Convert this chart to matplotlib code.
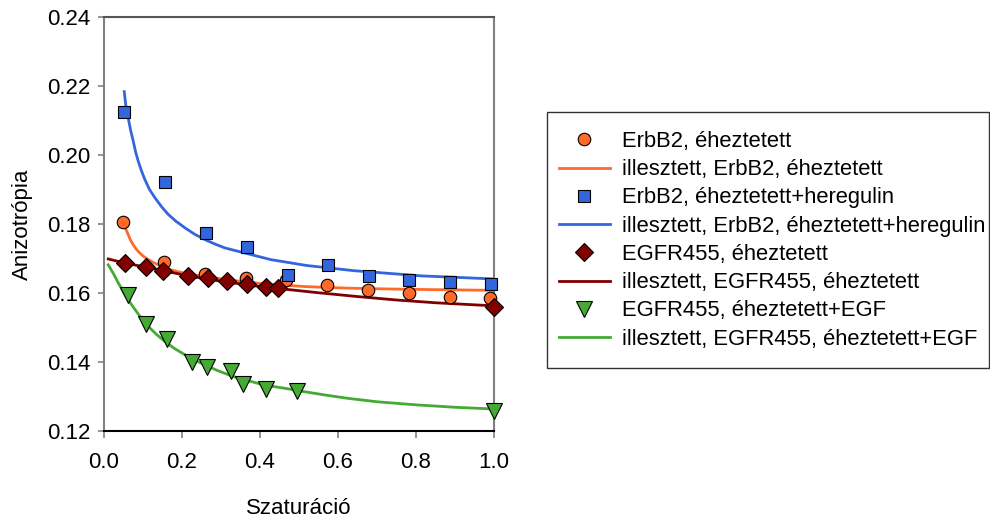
import matplotlib
matplotlib.use('Agg')
import matplotlib.pyplot as plt
from matplotlib.patches import Rectangle

plt.rcParams['font.family'] = ['Liberation Sans', 'DejaVu Sans']

# measured points
x_erbb2 = [0.049, 0.155, 0.259, 0.363, 0.467, 0.572, 0.676, 0.781, 0.886, 0.990]
y_erbb2 = [0.1805, 0.1689, 0.1655, 0.1645, 0.1639, 0.1624, 0.1608, 0.1600, 0.1590, 0.1586]

x_erbb2_hrg = [0.052, 0.156, 0.262, 0.367, 0.471, 0.575, 0.679, 0.783, 0.887, 0.992]
y_erbb2_hrg = [0.2126, 0.1923, 0.1774, 0.1734, 0.1653, 0.1682, 0.1651, 0.1639, 0.1631, 0.1627]

x_egfr = [0.054, 0.109, 0.152, 0.215, 0.267, 0.316, 0.366, 0.415, 0.447, 1.0]
y_egfr = [0.1687, 0.1676, 0.1663, 0.1651, 0.1644, 0.1634, 0.1627, 0.1617, 0.1615, 0.1560]

x_egfr_egf = [0.061, 0.109, 0.162, 0.225, 0.265, 0.327, 0.356, 0.415, 0.494, 1.0]
y_egfr_egf = [0.1595, 0.1510, 0.1468, 0.1400, 0.1385, 0.1374, 0.1336, 0.1323, 0.1316, 0.1259]

# fitted curves
fx_erbb2 = [0.050, 0.056, 0.062, 0.068, 0.075, 0.083, 0.092, 0.102, 0.114, 0.126, 0.139, 0.155, 0.170,
            0.190, 0.210, 0.235, 0.260, 0.290, 0.320, 0.360, 0.400, 0.450, 0.515, 0.580, 0.640, 0.728,
            0.850, 1.0]
fy_erbb2 = [0.1805, 0.1786, 0.1770, 0.1754, 0.1740, 0.1727, 0.1716, 0.1706, 0.1697, 0.1689, 0.1682,
            0.1675, 0.1668, 0.1662, 0.1657, 0.1652, 0.1648, 0.1643, 0.1638, 0.1633, 0.1628, 0.1624,
            0.1619, 0.1616, 0.1614, 0.1612, 0.1610, 0.1608]

fx_erbb2_hrg = [0.052, 0.056, 0.062, 0.068, 0.075, 0.081, 0.088, 0.096, 0.105, 0.117, 0.131, 0.148,
                0.165, 0.185, 0.208, 0.232, 0.259, 0.285, 0.310, 0.362, 0.428, 0.520, 0.641, 0.813, 1.0]
fy_erbb2_hrg = [0.2184, 0.2145, 0.2109, 0.2074, 0.2041, 0.2010, 0.1982, 0.1955, 0.1929, 0.1900,
                0.1876, 0.1850, 0.1828, 0.1808, 0.1789, 0.1771, 0.1755, 0.1742, 0.1731, 0.1716,
                0.1697, 0.1680, 0.1665, 0.1650, 0.1641]

fx_egfr = [0.011, 0.054, 0.131, 0.216, 0.302, 0.387, 0.450, 0.550, 0.650, 0.750, 0.850, 1.0]
fy_egfr = [0.1699, 0.1687, 0.1670, 0.1650, 0.1634, 0.1621, 0.1613, 0.1601, 0.1590, 0.1580, 0.1572, 0.1563]

fx_egfr_egf = [0.011, 0.025, 0.037, 0.053, 0.071, 0.092, 0.114, 0.135, 0.156, 0.180, 0.208, 0.232,
               0.259, 0.290, 0.327, 0.360, 0.396, 0.430, 0.464, 0.515, 0.570, 0.625, 0.700, 0.800,
               0.900, 1.0]
fy_egfr_egf = [0.1682, 0.1655, 0.1629, 0.1597, 0.1566, 0.1533, 0.1503, 0.1480, 0.1460, 0.1440,
               0.1421, 0.1406, 0.1392, 0.1376, 0.1360, 0.1349, 0.1338, 0.1330, 0.1324, 0.1314,
               0.1304, 0.1295, 0.1285, 0.1276, 0.1269, 0.1264]

c_orange = '#FF6A2A'
c_blue = '#3366DD'
c_red = '#800000'
c_green = '#44AA33'

W, H = 990, 520
fig = plt.figure(figsize=(9.9, 5.2), dpi=100)
ax = fig.add_axes([0.105, 0.171, 0.394, 0.796])

mk = dict(linestyle='none', markeredgecolor='black', markeredgewidth=0.8, clip_on=False, zorder=3)
lw = 2.0

ax.plot(x_erbb2, y_erbb2, marker='o', markersize=9, markerfacecolor=c_orange,
        label='ErbB2, éheztetett', **mk)
ax.plot(fx_erbb2, fy_erbb2, color=c_orange, lw=lw, zorder=2,
        label='illesztett, ErbB2, éheztetett')
ax.plot(x_erbb2_hrg, y_erbb2_hrg, marker='s', markersize=8.5, markerfacecolor=c_blue,
        label='ErbB2, éheztetett+heregulin', **mk)
ax.plot(fx_erbb2_hrg, fy_erbb2_hrg, color=c_blue, lw=lw, zorder=2,
        label='illesztett, ErbB2, éheztetett+heregulin')
ax.plot(x_egfr, y_egfr, marker='D', markersize=9, markerfacecolor=c_red,
        label='EGFR455, éheztetett', **mk)
ax.plot(fx_egfr, fy_egfr, color=c_red, lw=lw, zorder=2,
        label='illesztett, EGFR455, éheztetett')
ax.plot(x_egfr_egf, y_egfr_egf, marker='v', markersize=11, markerfacecolor=c_green,
        label='EGFR455, éheztetett+EGF', **mk)
ax.plot(fx_egfr_egf, fy_egfr_egf, color=c_green, lw=lw, zorder=2,
        label='illesztett, EGFR455, éheztetett+EGF')

ax.set_xlim(0, 1.0)
ax.set_ylim(0.12, 0.24)
ax.set_xticks([0.0, 0.2, 0.4, 0.6, 0.8, 1.0])
ax.set_xticklabels(['0.0', '0.2', '0.4', '0.6', '0.8', '1.0'])
ax.set_yticks([0.12, 0.14, 0.16, 0.18, 0.20, 0.22, 0.24])
ax.set_yticklabels(['0.12', '0.14', '0.16', '0.18', '0.20', '0.22', '0.24'])
ax.tick_params(axis='both', labelsize=16, direction='out', color='#808080', width=1.2)
ax.tick_params(axis='y', length=4, pad=6)
ax.tick_params(axis='x', length=5, pad=10)

ax.spines['left'].set_color('#808080')
ax.spines['right'].set_color('#808080')
ax.spines['top'].set_color('#555555')
ax.spines['bottom'].set_color('black')
for s in ax.spines.values():
    s.set_linewidth(1.5)

ax.set_xlabel('Szaturáció', fontsize=16, labelpad=18)
ax.set_ylabel('Anizotrópia', fontsize=16, labelpad=10)

# legend box drawn separately so the padding matches the original
fig.patches.append(Rectangle((547 / W, 1 - 368 / H), (989 - 547) / W, (368 - 112) / H,
                             transform=fig.transFigure, facecolor='white',
                             edgecolor='#333333', linewidth=1.0, zorder=0))
leg = fig.legend(loc='upper left', bbox_to_anchor=(559 / W, 1 - 131 / H), fontsize=15.8,
                 frameon=False, handlelength=2.32, handletextpad=0.55,
                 labelspacing=0.33, borderpad=0, borderaxespad=0)

fig.savefig('out.png', dpi=100)
